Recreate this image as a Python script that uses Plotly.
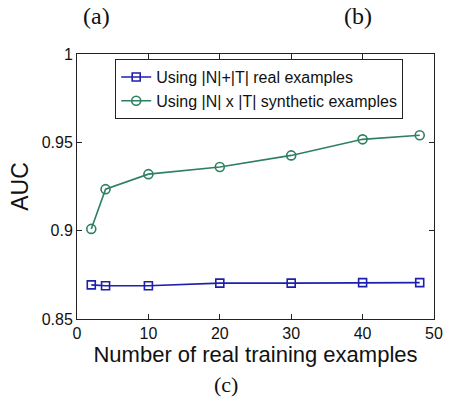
import plotly.graph_objects as go

x_vals = [2, 4, 10, 20, 30, 40, 48]
real_auc = [0.8693, 0.8688, 0.8688, 0.8703, 0.8703, 0.8706, 0.8706]
synthetic_auc = [0.901, 0.9235, 0.932, 0.936, 0.9426, 0.9517, 0.954]
series_names = ["Using |N|+|T| real examples", "Using |N| x |T| synthetic examples"]
x_ticks = [0, 10, 20, 30, 40, 50]
y_ticks = [0.85, 0.9, 0.95, 1]
y_tick_labels = ["0.85", "0.9", "0.95", "1"]

BLUE = "#1f1fae"
GREEN = "#2e8060"

fig = go.Figure()
fig.add_trace(go.Scatter(
    x=x_vals, y=real_auc, name=series_names[0], mode="lines+markers",
    line=dict(color=BLUE, width=1.6),
    marker=dict(symbol="square-open", size=8, color=BLUE, line=dict(width=1.6)),
))
fig.add_trace(go.Scatter(
    x=x_vals, y=synthetic_auc, name=series_names[1], mode="lines+markers",
    line=dict(color=GREEN, width=1.6),
    marker=dict(symbol="circle-open", size=9, color=GREEN, line=dict(width=1.6)),
))

axis_common = dict(
    showgrid=False, zeroline=False, showline=True, linecolor="#222", linewidth=1,
    mirror="ticks", ticks="inside", ticklen=5, tickcolor="#222",
    tickfont=dict(family="Liberation Sans, Arial", size=16, color="#111"),
)

fig.update_layout(
    width=453, height=397,
    margin=dict(l=77, r=10, t=54, b=78),
    paper_bgcolor="white", plot_bgcolor="white",
    font=dict(family="Liberation Sans, Arial", color="#111"),
    xaxis=dict(range=[0, 50], tickvals=x_ticks,
               title=dict(text="Number of real training examples", standoff=3,
                          font=dict(size=22, family="Liberation Sans, Arial")),
               **axis_common),
    yaxis=dict(range=[0.85, 1], tickvals=y_ticks, ticktext=y_tick_labels,
               title=dict(text="AUC", standoff=6,
                          font=dict(size=23, family="Liberation Sans, Arial")),
               **axis_common),
    legend=dict(x=0.107, y=0.981, xanchor="left", yanchor="top",
                bgcolor="white", bordercolor="#222", borderwidth=1,
                font=dict(size=16, family="Liberation Sans, Arial", color="#111")),
    showlegend=True,
)

for txt, xp, yp, fs in [("(a)", 97, 16, 24), ("(b)", 365, 16, 24), ("(c)", 230, 384, 22)]:
    fig.add_annotation(
        text=txt, xref="paper", yref="paper",
        x=(xp - 77) / 366, y=(319 - yp) / 265,
        xanchor="center", yanchor="middle", showarrow=False,
        font=dict(family="Liberation Serif, Times New Roman", size=fs, color="#111"),
    )

fig.write_html("out.html")
